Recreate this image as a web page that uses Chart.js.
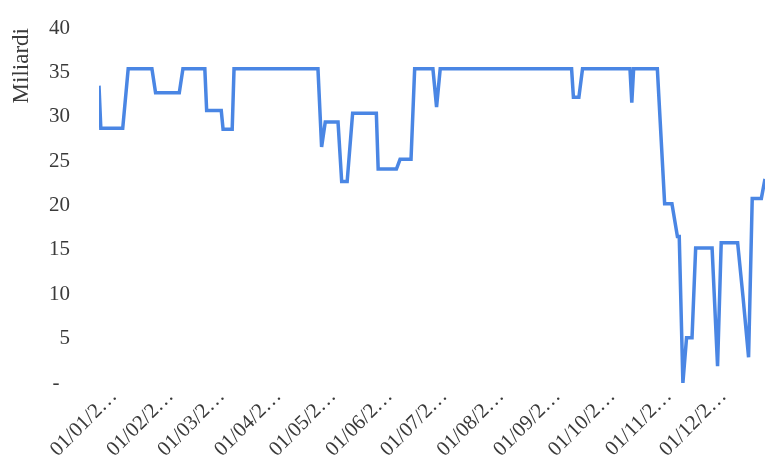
<!DOCTYPE html>
<html>
<head>
<meta charset="utf-8">
<script src="https://cdn.jsdelivr.net/npm/chart.js@4/dist/chart.umd.min.js"></script>
<style>
  html, body { margin: 0; padding: 0; background: #fff; }
  #wrap { width: 765px; height: 462px; }
</style>
</head>
<body>
<div id="wrap"><canvas id="chart" width="765" height="462"></canvas></div>
<script>
// day of year (0 = 1 Jan) and value in billions
const days = [0, 1, 13, 16, 29, 31, 44, 46, 58, 59, 67, 68, 73, 74, 120, 122, 124, 131, 133, 136,
  139, 152, 153, 163, 165, 171, 173, 183, 185, 187, 259, 260, 263, 265, 291, 292, 293, 306, 310, 314,
  317, 318, 320, 322, 325, 327, 336, 339, 341, 350, 353, 356, 358, 363, 365];
const values = [33.5, 28.7, 28.7, 35.4, 35.4, 32.7, 32.7, 35.4, 35.4, 30.7, 30.7, 28.6, 28.6, 35.4, 35.4, 26.6, 29.4, 29.4, 22.7, 22.7,
  30.4, 30.4, 24.1, 24.1, 25.2, 25.2, 35.4, 35.4, 31.1, 35.4, 35.4, 32.2, 32.2, 35.4, 35.4, 31.6, 35.4, 35.4, 20.2, 20.2,
  16.5, 16.5, 0, 5.1, 5.1, 15.2, 15.2, 1.9, 15.8, 15.8, 9.6, 2.9, 20.8, 20.8, 23];

const monthDays = [0, 31, 59, 90, 120, 151, 181, 212, 243, 273, 304, 334];
const monthLabels = ['01/01/2…', '01/02/2…', '01/03/2…', '01/04/2…', '01/05/2…', '01/06/2…',
  '01/07/2…', '01/08/2…', '01/09/2…', '01/10/2…', '01/11/2…', '01/12/2…'];

const yTicks = [0, 5, 10, 15, 20, 25, 30, 35, 40];
const yTitle = 'Miliardi';

const points = days.map((d, i) => ({ x: d, y: values[i] }));
const font = { family: "'Liberation Serif', 'Times New Roman', serif", size: 21 };

new Chart(document.getElementById('chart'), {
  type: 'line',
  data: {
    datasets: [{
      data: points,
      borderColor: '#4a86e4',
      borderWidth: 3.5,
      pointRadius: 0,
      tension: 0,
      fill: false
    }]
  },
  options: {
    responsive: false,
    animation: false,
    plugins: { legend: { display: false }, tooltip: { enabled: false } },
    layout: { padding: { top: 28, right: 0, bottom: 0, left: 0 } },
    scales: {
      x: {
        type: 'linear',
        min: 0,
        max: 365,
        grid: { display: false, drawTicks: false },
        border: { display: false },
        afterBuildTicks: axis => { axis.ticks = monthDays.map(v => ({ value: v })); },
        afterFit: axis => {
          axis.paddingLeft = 0;
          axis.paddingRight = 0;
          axis.height = 79;
        },
        ticks: {
          autoSkip: false,
          minRotation: 45,
          maxRotation: 45,
          labelOffset: 15,
          padding: 1,
          color: '#3a3a3a',
          font: font,
          callback: v => monthLabels[monthDays.indexOf(v)]
        }
      },
      y: {
        min: 0,
        max: 40,
        grid: { display: false, drawTicks: false },
        border: { display: false },
        afterBuildTicks: axis => { axis.ticks = yTicks.map(v => ({ value: v })); },
        afterFit: axis => {
          axis.paddingTop = 0;
          axis.paddingBottom = 0;
          axis.width = 99;
        },
        title: {
          display: true,
          text: yTitle,
          align: 'end',
          color: '#3a3a3a',
          font: { family: font.family, size: 23 },
          padding: { top: 8, bottom: 13 }
        },
        ticks: {
          padding: 29,
          color: '#3a3a3a',
          font: font,
          callback: v => v === 0 ? '-  ' : v
        }
      }
    }
  }
});
</script>
</body>
</html>
